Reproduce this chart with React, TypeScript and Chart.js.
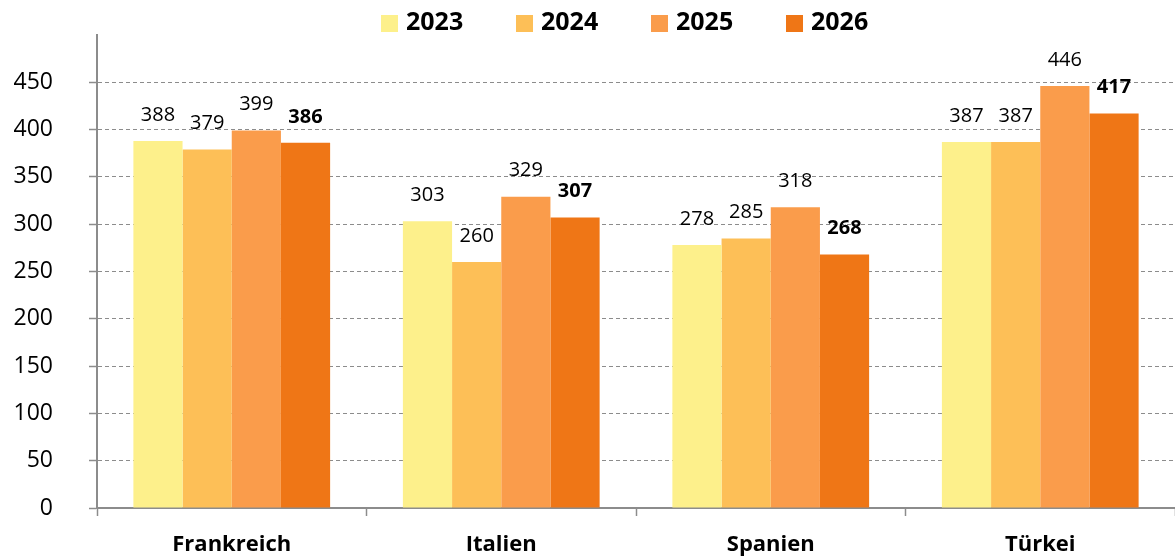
import React, { useEffect, useRef } from "react";
import { Chart, registerables } from "chart.js";

Chart.register(...registerables);

const categories = ["Frankreich", "Italien", "Spanien", "Türkei"];
const seriesNames = ["2023", "2024", "2025", "2026"];
const values2023 = [388, 303, 278, 387];
const values2024 = [379, 260, 285, 387];
const values2025 = [399, 329, 318, 446];
const values2026 = [386, 307, 268, 417];
const seriesColors = ["#FDF08B", "#FDBF57", "#FA9C4B", "#EF7616"];
const yMax = 500;
const yStep = 50;

const FONT = "'Open Sans', 'DejaVu Sans', sans-serif";
const GRID = "#8c8c8c";

const valueLabels = {
  id: "valueLabels",
  afterDatasetsDraw(chart: any) {
    const ctx = chart.ctx;
    ctx.save();
    ctx.textAlign = "center";
    ctx.textBaseline = "middle";
    ctx.fillStyle = "#000";
    chart.data.datasets.forEach((ds: any, di: number) => {
      const meta = chart.getDatasetMeta(di);
      ctx.font = (di === 3 ? "bold " : "") + "20px " + FONT;
      meta.data.forEach((el: any, i: number) => {
        ctx.fillText(String(ds.data[i]), el.x, el.y - 26);
      });
    });
    ctx.restore();
  },
};

const topLegend = {
  id: "topLegend",
  afterDraw(chart: any) {
    const ctx = chart.ctx;
    ctx.save();
    ctx.textBaseline = "middle";
    ctx.textAlign = "left";
    ctx.font = "bold 25px " + FONT;
    chart.data.datasets.forEach((ds: any, i: number) => {
      const x = 381 + i * 135;
      ctx.fillStyle = ds.backgroundColor;
      ctx.fillRect(x, 15, 17, 17);
      ctx.fillStyle = "#000";
      ctx.fillText(ds.label, x + 25, 23);
    });
    ctx.restore();
  },
};

export default function App() {
  const ref = useRef<HTMLCanvasElement>(null);
  useEffect(() => {
    if (!ref.current) return;
    const all = [values2023, values2024, values2025, values2026];
    const chart = new Chart(ref.current, {
      type: "bar",
      data: {
        labels: categories,
        datasets: all.map((d, i) => ({
          label: seriesNames[i],
          data: d,
          backgroundColor: seriesColors[i],
          borderWidth: 0,
          categoryPercentage: 0.73,
          barPercentage: 1.0,
        })),
      },
      options: {
        responsive: false,
        animation: false,
        layout: { padding: { top: 35, left: 0, right: 0, bottom: 0 } },
        plugins: {
          legend: { display: false },
          tooltip: { enabled: false },
        },
        scales: {
          y: {
            min: 0,
            max: yMax,
            afterFit: (s: any) => {
              s.width = 97;
              s.paddingTop = 0;
              s.paddingBottom = 0;
            },
            ticks: {
              stepSize: yStep,
              color: "#000",
              font: { family: FONT, size: 23 },
              padding: 36,
              callback: (v: any) => (v === yMax ? "" : String(v)),
            },
            grid: {
              color: (c: any) => (c.tick && c.tick.value === yMax ? "rgba(0,0,0,0)" : GRID),
              tickColor: (c: any) => (c.tick && c.tick.value === yMax ? "rgba(0,0,0,0)" : GRID),
              lineWidth: 1,
              tickLength: 8,
              tickWidth: 1.5,
              tickBorderDash: [],
            },
            border: { color: GRID, width: 2, dash: [4, 3] },
          },
          x: {
            afterFit: (s: any) => {
              s.height = 52;
            },
            ticks: {
              color: "#000",
              font: { family: FONT, size: 22, weight: "bold" },
              padding: 16,
            },
            grid: {
              offset: true,
              drawOnChartArea: false,
              drawTicks: true,
              tickLength: 8,
              tickColor: GRID,
              tickWidth: 1.5,
            },
            border: { color: GRID, width: 2 },
          },
        },
      },
      plugins: [valueLabels, topLegend],
    });
    return () => chart.destroy();
  }, []);
  return (
    <div style={{ position: "absolute", left: 0, top: 0, width: 1175, height: 560, background: "#fff" }}>
      <canvas ref={ref} width={1175} height={560} />
    </div>
  );
}
